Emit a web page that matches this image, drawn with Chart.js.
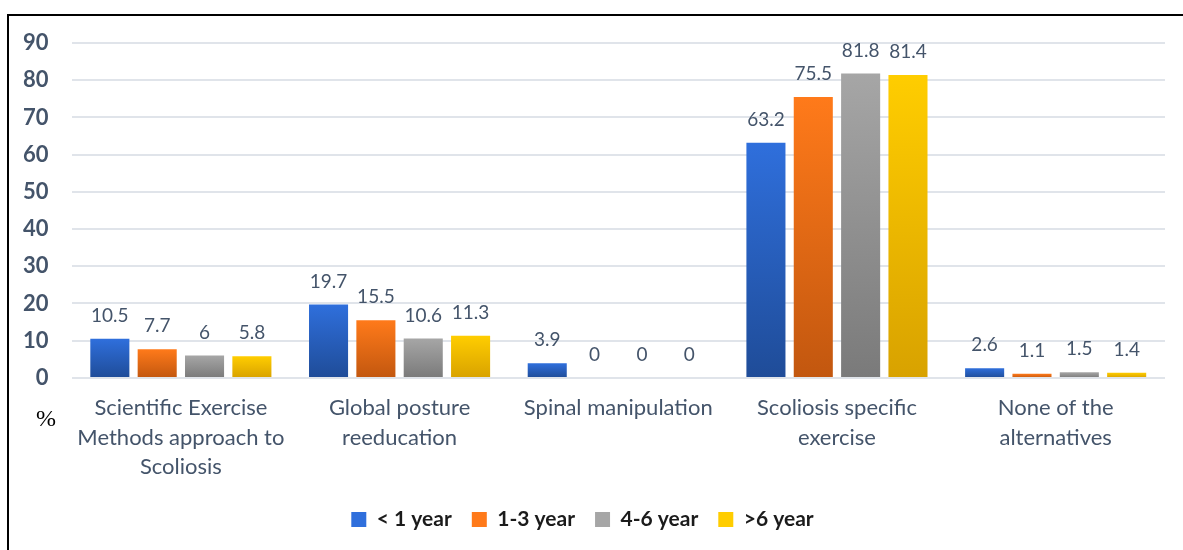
<!DOCTYPE html>
<html>
<head>
<meta charset="utf-8">
<script src="https://cdn.jsdelivr.net/npm/chart.js@4.4.1/dist/chart.umd.min.js"></script>
<style>
    html, body { margin: 0; padding: 0; background: #fff; }
    #wrap { position: relative; width: 1183px; height: 550px; }
    #frame {
        position: absolute; left: 7px; top: 14px; right: 0; bottom: 0;
        border-top: 2px solid #000; border-left: 2px solid #000;
    }
    #pct {
        position: absolute; left: 36px; top: 405px;
        font-family: "Liberation Serif", serif; font-size: 24px; color: #000;
    }
    canvas { position: absolute; left: 0; top: 0; }
</style>
</head>
<body>
<div id="wrap">
    <div id="frame"></div>
    <canvas id="chart" width="1183" height="550"></canvas>
    <div id="pct">%</div>
</div>
<script>
// categories
const categories = [
    ['Scientific Exercise', 'Methods approach to', 'Scoliosis'],
    ['Global posture', 'reeducation'],
    ['Spinal manipulation'],
    ['Scoliosis specific', 'exercise'],
    ['None of the', 'alternatives']
];

// series
const seriesNames = ['< 1 year', '1-3 year', '4-6 year', '>6 year'];
const lessThan1 = [10.5, 19.7, 3.9, 63.2, 2.6];
const oneToThree = [7.7, 15.5, 0, 75.5, 1.1];
const fourToSix = [6, 10.6, 0, 81.8, 1.5];
const moreThan6 = [5.8, 11.3, 0, 81.4, 1.4];

// y ticks
const yMin = 0;
const yMax = 90;
const yStep = 10;

// gradient colours (top, bottom) per series
const colors = [
    ['#2f6fdc', '#1f4c98'],
    ['#ff7a1a', '#c2570f'],
    ['#a6a6a6', '#7a7a7a'],
    ['#ffcd00', '#d8a200']
];

function barGradient(idx) {
    return function(context) {
        const c = colors[idx];
        if (context.type !== 'data') return c[0];
        const chart = context.chart;
        const yScale = chart.scales.y;
        if (!chart.chartArea || !yScale) return c[0];
        const top = yScale.getPixelForValue(context.parsed.y);
        const bottom = yScale.getPixelForValue(0);
        if (bottom - top < 1) return c[1];
        const g = chart.ctx.createLinearGradient(0, top, 0, bottom);
        g.addColorStop(0, c[0]);
        g.addColorStop(1, c[1]);
        return g;
    };
}

// 柱顶数值标签
const valueLabels = {
    id: 'valueLabels',
    afterDatasetsDraw(chart) {
        const ctx = chart.ctx;
        ctx.save();
        ctx.font = '19px Lato';
        ctx.fillStyle = '#44546a';
        ctx.textAlign = 'center';
        ctx.textBaseline = 'middle';
        chart.data.datasets.forEach((ds, i) => {
            const meta = chart.getDatasetMeta(i);
            meta.data.forEach((bar, j) => {
                ctx.fillText(String(ds.data[j]), bar.x, bar.y - 23);
            });
        });
        ctx.restore();
    }
};

const allSeries = [lessThan1, oneToThree, fourToSix, moreThan6];

new Chart(document.getElementById('chart').getContext('2d'), {
    type: 'bar',
    data: {
        labels: categories,
        datasets: allSeries.map((data, i) => ({
            label: seriesNames[i],
            data: data,
            backgroundColor: barGradient(i),
            borderWidth: 0,
            categoryPercentage: 0.866,
            barPercentage: 0.825
        }))
    },
    options: {
        responsive: false,
        animation: false,
        layout: { padding: { left: 0, right: 18, top: 43, bottom: 10 } },
        plugins: {
            tooltip: { enabled: false },
            legend: {
                position: 'bottom',
                labels: {
                    boxWidth: 15,
                    boxHeight: 15,
                    padding: 20,
                    color: '#1b1b1b',
                    font: { family: 'Lato', size: 21, weight: 'bold' },
                    generateLabels(chart) {
                        return chart.data.datasets.map((ds, i) => ({
                            text: ds.label,
                            fillStyle: colors[i][0],
                            strokeStyle: colors[i][0],
                            lineWidth: 0,
                            fontColor: '#1b1b1b',
                            datasetIndex: i
                        }));
                    }
                }
            }
        },
        scales: {
            x: {
                grid: { display: false },
                border: { display: false },
                ticks: {
                    color: '#44546a',
                    font: { family: 'Lato', size: 22, lineHeight: 1.32 },
                    maxRotation: 0,
                    padding: 8
                }
            },
            y: {
                min: yMin,
                max: yMax,
                ticks: {
                    stepSize: yStep,
                    color: '#44546a',
                    font: { family: 'Lato', size: 22, weight: 'bold' },
                    padding: 23
                },
                grid: { color: '#e0e4ea', lineWidth: 2, drawTicks: false },
                border: { display: false }
            }
        }
    },
    plugins: [valueLabels]
});
</script>
</body>
</html>
